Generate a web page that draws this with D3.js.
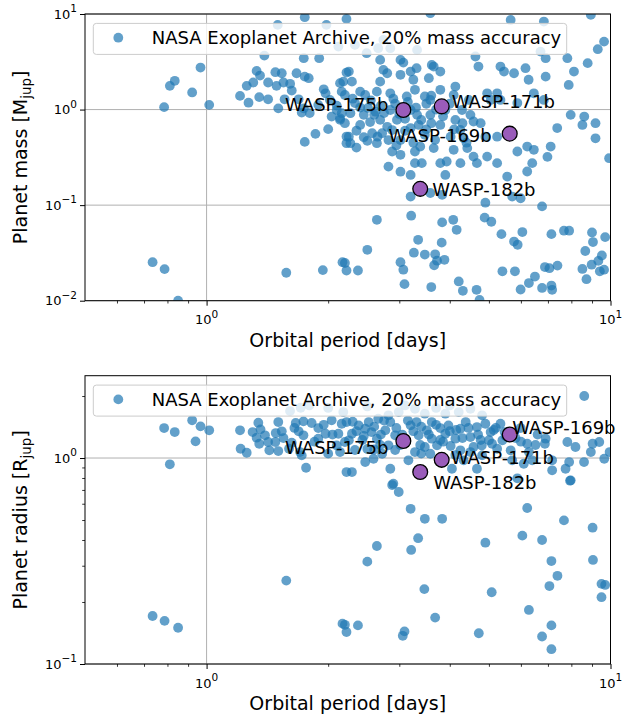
<!DOCTYPE html>
<html>
<head>
<meta charset="UTF-8">
<title>Planet mass and radius vs orbital period</title>
<script src="https://d3js.org/d3.v7.min.js"></script>
<style>
  body { margin: 0; background: #fff; }
  svg { display: block; font-family: "DejaVu Sans", sans-serif; }
</style>
</head>
<body>
<div id="chart"></div>
<script>
// NASA archive sample, upper panel: orbital period [days] and mass [Mjup]
const massPeriods = [
  1.50, 1.75, 1.39, 1.74, 1.90, 0.966, 0.834, 0.811, 0.921, 0.785,
  1.015, 1.33, 1.356, 1.48, 1.535, 1.67, 1.75, 1.79, 1.305, 1.257,
  1.42, 1.49, 1.55, 1.61, 1.625, 1.21, 1.27, 1.35, 1.42, 1.56,
  1.505, 1.69, 1.74, 1.72, 1.80, 1.95, 1.97, 2.14, 2.16, 2.20,
  2.04, 2.14, 2.16, 2.00, 1.86, 1.75, 2.22, 2.22, 2.22, 2.22,
  3.58, 5.66, 6.84, 8.94, 9.64, 9.30, 8.78, 8.12, 6.71, 7.82,
  6.91, 4.63, 4.71, 5.34, 5.45, 5.77, 6.16, 6.27, 6.91, 7.88,
  1.98, 2.12, 2.33, 2.74, 2.85, 3.32, 2.49, 2.66, 2.25, 2.18,
  2.29, 2.69, 3.02, 3.07, 2.74, 2.80, 3.20, 3.31, 3.61, 3.65,
  3.79, 3.55, 3.25, 2.69, 3.02, 2.40, 2.64, 2.85, 3.13, 3.28,
  3.47, 3.58, 3.79, 4.13, 4.09, 4.46, 4.95, 5.05, 5.24, 5.34,
  5.88, 6.46, 6.84, 7.97, 8.61, 8.52, 9.18, 7.38, 9.18, 9.92,
  6.98, 7.11, 6.40, 6.22, 5.55, 2.10, 2.14, 2.27, 2.45, 2.69,
  2.80, 2.57, 2.72, 2.96, 3.20, 3.32, 3.35, 3.58, 3.79, 4.58,
  4.77, 4.90, 5.24, 4.33, 4.02, 2.25, 2.27, 2.45, 2.64, 2.88,
  3.02, 3.28, 3.38, 3.65, 4.09, 4.42, 4.58, 4.95, 5.24, 4.67,
  4.25, 3.79, 3.93, 3.28, 3.41, 2.82, 3.02, 3.20, 3.90, 5.88,
  6.46, 6.22, 3.20, 3.58, 3.83, 4.90, 5.71, 5.99, 6.77, 3.21,
  2.64, 3.83, 4.08, 4.16, 4.88, 5.07, 5.37, 5.77, 5.89, 6.05,
  7.14, 7.67, 7.90, 9.00, 9.70, 9.05, 8.66, 3.34, 3.82, 2.50,
  3.26, 3.47, 3.68, 3.72, 3.66, 3.88, 2.20, 2.22, 2.37, 3.02,
  3.07, 3.09, 3.60, 4.21, 4.31, 4.66, 4.74, 5.40, 5.80, 5.99,
  6.28, 6.50, 6.88, 7.06, 7.39, 6.77, 7.14, 7.17, 8.52, 8.72,
  8.98, 9.33, 9.52, 9.41, 9.64, 0.735, 0.787, 0.850, 1.575, 1.94,
  2.17, 2.33, 2.51, 2.62, 2.85, 2.93, 2.40, 2.54, 2.88, 3.02,
  3.20, 3.47, 3.68, 4.13, 4.29, 4.50, 3.90, 2.82, 2.35, 2.02, 1.89, 2.47, 4.25,
  2.30, 2.40, 2.55, 2.60, 2.70, 2.75, 2.90, 3.00, 3.10, 3.15,
  3.30, 3.40, 3.50, 3.60, 3.70, 3.85, 4.00, 4.10, 4.30, 2.20,
  2.35, 2.50, 2.65, 3.10, 3.50, 2.95, 3.25, 4.40, 3.60, 2.10
];
const masses = [
  7.69, 9.26, 3.67, 3.45, 3.45, 2.75, 2.00, 1.77, 1.51, 1.06,
  1.12, 2.54, 2.27, 2.46, 2.40, 2.40, 2.21, 2.13, 1.92, 1.77,
  1.92, 1.77, 1.92, 1.86, 1.58, 1.39, 1.18, 1.35, 1.28, 1.28,
  1.03, 1.28, 1.03, 0.93, 0.92, 1.63, 1.48, 1.89, 1.54, 1.42,
  0.845, 0.78, 0.917, 0.624, 0.557, 0.459, 0.522, 0.445, 2.44, 8.89,
  10.2, 8.67, 8.33, 9.79, 5.14, 4.28, 3.06, 2.50, 4.04, 3.45,
  3.45, 3.59, 2.82, 2.82, 2.50, 2.40, 2.71, 2.05, 2.21, 1.81,
  7.69, 4.56, 4.75, 5.36, 4.39, 4.21, 3.89, 4.39, 2.50, 1.96,
  1.96, 3.31, 3.31, 3.10, 2.60, 2.40, 2.50, 2.71, 2.93, 2.82,
  2.50, 2.13, 2.05, 1.96, 2.31, 1.54, 1.54, 1.48, 1.37, 1.61,
  1.37, 1.26, 1.61, 1.74, 1.42, 1.26, 1.48, 1.26, 1.48, 1.26,
  1.17, 1.48, 1.26, 0.88, 0.845, 0.69, 0.72, 0.64, 0.50, 0.31,
  0.32, 0.41, 0.275, 0.225, 0.199, 0.99, 0.81, 0.917, 0.88, 0.78,
  0.66, 0.566, 0.566, 0.78, 0.99, 0.88, 0.69, 0.88, 0.69, 0.75,
  0.72, 0.52, 0.52, 0.50, 0.52, 0.52, 0.445, 0.514, 0.445, 0.364,
  0.336, 0.364, 0.41, 0.395, 0.379, 0.395, 0.322, 0.322, 0.275, 0.275,
  0.275, 0.275, 0.286, 0.275, 0.275, 0.253, 0.224, 0.207, 0.207, 0.364,
  0.379, 0.41, 0.123, 0.134, 0.128, 0.106, 0.123, 0.118, 0.097, 0.0775,
  0.0702, 0.066, 0.0702, 0.0552, 0.074, 0.067, 0.0497, 0.0416, 0.0385, 0.0523,
  0.0497, 0.054, 0.054, 0.0517, 0.0463, 0.0411, 0.0331, 0.0434, 0.0405, 0.0341,
  0.0318, 0.0304, 0.0306, 0.0262, 0.0235, 0.0268, 0.0248, 0.0207, 0.0207, 0.0253,
  0.0211, 0.0149, 0.0139, 0.0159, 0.0127, 0.0130, 0.0102, 0.0203, 0.0203, 0.0131,
  0.0153, 0.0179, 0.0225, 0.0219, 0.0233, 0.0136, 0.0144, 0.0130, 0.0215, 0.0168,
  0.0238, 0.0261, 0.0297, 0.0203, 0.0211, 0.0253, 0.0214, 0.0100, 0.0196, 0.0209,
  0.0253, 1.17, 1.04, 0.95, 0.99, 1.15, 0.69, 0.74, 0.61, 0.48,
  0.64, 0.544, 0.482, 0.78, 0.99, 0.88, 0.99, 0.48, 0.40, 1.26, 1.12, 1.42, 0.613,
  1.30, 1.05, 1.25, 0.88, 1.10, 0.92, 1.30, 0.90, 0.80, 1.20,
  1.05, 0.78, 1.15, 0.72, 1.00, 0.85, 1.15, 0.62, 0.72, 0.72,
  0.60, 0.47, 0.52, 0.60, 0.62, 0.42, 0.45, 0.45, 1.40, 1.10
];

// NASA archive sample, lower panel: orbital period [days] and radius [Rjup]
const radiusPeriods = [
  0.785, 0.834, 0.921, 0.966, 0.939, 1.015, 0.811, 0.735, 0.787, 0.850,
  1.575, 1.21, 1.214, 1.257, 1.30, 1.343, 1.36, 1.33, 1.35, 1.42,
  1.43, 1.395, 1.505, 1.535, 1.483, 1.505, 1.48, 1.609, 1.71, 1.796,
  1.662, 1.737, 1.82, 1.89, 1.69, 1.737, 1.625, 1.60, 1.704, 1.72,
  1.763, 1.89, 1.97, 2.04, 2.16, 2.18, 2.12, 2.14, 2.20, 2.22,
  2.22, 2.38, 2.29, 2.25, 2.47, 2.52, 2.66, 2.82, 2.99, 3.28,
  3.47, 3.90, 4.21, 4.50, 4.81, 2.56, 2.64, 2.77, 2.85, 2.93,
  2.82, 2.72, 2.59, 2.47, 2.29, 2.85, 2.90, 2.99, 3.20, 3.47,
  3.83, 3.20, 3.31, 3.35, 3.51, 3.61, 3.61, 3.47, 3.28, 3.16,
  3.58, 3.72, 3.90, 3.97, 4.13, 4.25, 4.38, 4.50, 4.58, 4.25,
  4.05, 4.33, 4.67, 4.90, 5.05, 5.09, 4.81, 4.67, 5.24, 5.34,
  5.40, 5.66, 5.71, 6.22, 6.28, 6.10, 6.40, 6.91, 6.88, 7.17,
  7.17, 7.82, 8.19, 7.90, 8.60, 8.94, 9.03, 9.38, 9.65, 9.95,
  7.97, 7.74, 6.22, 7.67, 8.61, 2.88, 4.90, 6.05, 6.77, 9.03,
  5.88, 7.94, 2.64, 2.50, 3.34, 3.21, 7.14, 7.39, 7.06, 9.05,
  3.46, 5.08, 6.28, 9.50, 9.70, 9.50, 3.68, 2.20, 2.22, 2.37,
  3.09, 3.06, 4.72, 7.14, 6.77, 7.14, 2.17,
  3.10, 3.38, 3.79, 4.02, 4.13, 4.77, 5.14, 5.47, 5.82, 5.99,
  6.52, 3.79, 2.69, 2.43, 2.33, 2.93, 4.50, 3.02, 4.15, 2.50,
  1.55, 1.65, 1.85, 1.95, 2.05, 2.10, 2.30, 2.35, 2.45, 2.60,
  2.70, 2.75, 2.95, 3.05, 3.15, 3.25, 3.40, 3.55, 3.70, 3.85,
  4.00, 4.30, 4.45, 4.70, 5.00, 5.20, 5.50, 6.00, 6.60, 2.00,
  2.60, 3.40, 4.80, 2.00, 2.50, 3.10, 3.70, 4.00
];
const radii = [
  1.398, 1.337, 1.524, 1.425, 1.205, 1.363, 0.932, 0.171, 0.162, 0.150,
  0.254, 1.363, 1.109, 1.061, 1.337, 1.484, 1.378, 1.255, 1.173, 1.196,
  1.090, 1.289, 1.495, 1.348, 1.322, 1.081, 1.196, 1.69, 1.754, 1.80,
  1.479, 1.506, 1.479, 1.398, 1.348, 1.289, 1.186, 1.109, 1.069, 1.030,
  0.897, 1.241, 1.312, 1.524, 1.467, 1.672, 1.312, 1.069, 1.196, 0.855,
  1.495, 1.441, 1.312, 1.219, 1.387, 1.495, 1.551, 1.612, 1.672, 1.735,
  1.641, 1.641, 1.672, 1.735, 1.612, 1.337, 1.241, 1.363, 1.495, 1.289,
  1.153, 1.049, 0.992, 0.956, 0.855, 0.887, 0.750, 0.684, 0.567, 0.507,
  0.507, 1.441, 1.495, 1.289, 1.363, 1.495, 1.241, 1.131, 1.069, 0.975,
  1.049, 1.153, 1.312, 1.441, 1.241, 1.387, 1.495, 1.264, 1.131, 1.090,
  0.887, 0.975, 1.414, 1.467, 1.337, 1.173, 1.030, 0.887, 1.109, 1.467,
  1.219, 1.090, 0.975, 1.173, 1.069, 0.938, 0.975, 1.241, 1.173, 0.975,
  0.872, 1.196, 1.131, 0.956, 0.956, 1.069, 1.173, 1.196, 0.992, 1.069,
  0.779, 0.887, 0.572, 0.498, 2.00, 0.739, 0.388, 0.420, 0.400, 0.459,
  0.797, 0.776, 0.374, 0.314, 0.408, 0.358, 0.316, 0.268, 0.239, 0.320,
  0.231, 0.223, 0.183, 0.245, 0.242, 0.211, 0.168, 0.155, 0.143, 0.154,
  0.144, 0.137, 0.141, 0.154, 0.136, 0.118, 0.157,
  1.223, 1.157, 1.223, 1.144, 1.034, 1.223, 1.368, 1.337, 1.25, 1.398,
  1.157, 1.398, 1.157, 1.223, 1.094, 1.094, 1.069, 1.157, 1.368, 1.106,
  1.25, 1.40, 1.20, 1.45, 1.30, 1.15, 1.50, 1.35, 1.28, 1.42,
  1.30, 1.52, 1.40, 1.30, 1.52, 1.35, 1.42, 1.30, 1.45, 1.20,
  1.35, 1.25, 1.40, 1.30, 1.22, 1.40, 1.28, 1.20, 1.30, 1.05,
  1.10, 1.05, 1.15, 1.75, 1.78, 1.80, 1.75, 1.80
];

// the four highlighted planets
const waspNames = ["WASP-169b", "WASP-171b", "WASP-175b", "WASP-182b"];
const waspPeriods = [5.63, 3.82, 3.07, 3.38];
const waspMasses = [0.56, 1.08, 0.99, 0.148];
const waspRadii = [1.30, 0.98, 1.21, 0.855];

const periodTicks = [1, 10];
const periodMinor = [0.6, 0.7, 0.8, 0.9, 2, 3, 4, 5, 6, 7, 8, 9];
const massTicks = [0.01, 0.1, 1, 10];
const radiusTicks = [0.1, 1];
const radiusMinor = [0.2, 0.3, 0.4, 0.5, 0.6, 0.7, 0.8, 0.9, 2];
const legendLabel = "NASA Exoplanet Archive, 20% mass accuracy";

const width = 622, height = 716;
const left = 85, right = 610.5;
const blue = "#1f77b4", purple = "#9a5cba";
const dotR = 4.9;

const svg = d3.select("#chart").append("svg")
  .attr("width", width)
  .attr("height", height);

// "10" with a raised exponent, like matplotlib's log labels
function powerLabel(sel, v) {
  const e = Math.round(Math.log10(v));
  sel.append("tspan").text("10");
  sel.append("tspan").attr("font-size", 10.5).attr("dy", -6.5)
    .text(e < 0 ? "\u2212" + (-e) : String(e));
}

function drawPanel(cfg, id) {
  const x = d3.scaleLog().domain([0.5, 10]).range([left, right]);
  const y = d3.scaleLog().domain(cfg.yDomain).range([cfg.bottom, cfg.top]);
  const g = svg.append("g");

  g.append("clipPath").attr("id", "clip" + id)
    .append("rect")
    .attr("x", left).attr("y", cfg.top)
    .attr("width", right - left).attr("height", cfg.bottom - cfg.top);

  // grid on major ticks
  g.selectAll(".vgrid").data(periodTicks).enter().append("line")
    .attr("x1", d => x(d)).attr("x2", d => x(d))
    .attr("y1", cfg.top).attr("y2", cfg.bottom)
    .attr("stroke", "#b0b0b0").attr("stroke-width", 1);
  g.selectAll(".hgrid").data(cfg.yTicks).enter().append("line")
    .attr("x1", left).attr("x2", right)
    .attr("y1", d => y(d)).attr("y2", d => y(d))
    .attr("stroke", "#b0b0b0").attr("stroke-width", 1);

  // axes (ticks only, labels added by hand)
  const xMajor = g.append("g").attr("transform", `translate(0,${cfg.bottom})`)
    .call(d3.axisBottom(x).tickValues(periodTicks).tickSize(5).tickFormat(""));
  const xMin = g.append("g").attr("transform", `translate(0,${cfg.bottom})`)
    .call(d3.axisBottom(x).tickValues(periodMinor).tickSize(2.8).tickFormat(""));
  const yMajor = g.append("g").attr("transform", `translate(${left},0)`)
    .call(d3.axisLeft(y).tickValues(cfg.yTicks).tickSize(5).tickFormat(""));
  const yMin = g.append("g").attr("transform", `translate(${left},0)`)
    .call(d3.axisLeft(y).tickValues(cfg.yMinor).tickSize(2.8).tickFormat(""));
  [xMajor, xMin, yMajor, yMin].forEach(a => {
    a.select(".domain").remove();
    a.selectAll("line").attr("stroke", "#000").attr("stroke-width", 1);
  });
  xMin.selectAll("line").attr("stroke-width", 0.8);
  yMin.selectAll("line").attr("stroke-width", 0.8);

  periodTicks.forEach(v => {
    g.append("text").attr("x", x(v)).attr("y", cfg.bottom + 23.5)
      .attr("text-anchor", "middle").attr("font-size", 13)
      .call(powerLabel, v);
  });
  cfg.yTicks.forEach(v => {
    g.append("text").attr("x", left - 8).attr("y", y(v) + 4.7)
      .attr("text-anchor", "end").attr("font-size", 13)
      .call(powerLabel, v);
  });

  // axis titles
  g.append("text")
    .attr("x", (left + right) / 2).attr("y", cfg.bottom + 46)
    .attr("text-anchor", "middle").attr("font-size", 19)
    .text("Orbital period [days]");
  const yt = g.append("text")
    .attr("transform", `translate(27,${(cfg.top + cfg.bottom) / 2}) rotate(-90)`)
    .attr("text-anchor", "middle").attr("font-size", 19);
  yt.append("tspan").text(cfg.yTitle + " [" + cfg.symbol);
  yt.append("tspan").attr("font-size", 13.5).attr("dy", 4).text("jup");
  yt.append("tspan").attr("dy", -4).text("]");

  // archive points
  g.append("g").attr("clip-path", `url(#clip${id})`)
    .selectAll("circle").data(cfg.periods).enter().append("circle")
    .attr("cx", d => x(d))
    .attr("cy", (d, i) => y(cfg.values[i]))
    .attr("r", dotR)
    .attr("fill", blue)
    .attr("opacity", 0.7);

  // highlighted planets
  g.append("g").attr("clip-path", `url(#clip${id})`)
    .selectAll("circle").data(waspNames).enter().append("circle")
    .attr("cx", (d, i) => x(waspPeriods[i]))
    .attr("cy", (d, i) => y(cfg.wasp[i]))
    .attr("r", 7.4)
    .attr("fill", purple)
    .attr("stroke", "#000")
    .attr("stroke-width", 1.3);

  g.selectAll(".wlabel").data(waspNames).enter().append("text")
    .attr("x", (d, i) => x(waspPeriods[i]) + cfg.offsets[i][0])
    .attr("y", (d, i) => y(cfg.wasp[i]) + cfg.offsets[i][1])
    .attr("text-anchor", (d, i) => cfg.offsets[i][2])
    .attr("font-size", 18)
    .text(d => d);

  // legend
  const lg = g.append("g").attr("transform", `translate(93.3,${cfg.top + 9.4})`);
  lg.append("rect")
    .attr("width", 473.4).attr("height", 31).attr("rx", 3)
    .attr("fill", "#fff").attr("fill-opacity", 0.8)
    .attr("stroke", "#cccccc").attr("stroke-width", 1);
  lg.append("circle").attr("cx", 25).attr("cy", 14.3).attr("r", dotR)
    .attr("fill", blue).attr("opacity", 0.7);
  lg.append("text").attr("x", 58.4).attr("y", 21)
    .attr("font-size", 18).text(legendLabel);

  // frame
  g.append("rect")
    .attr("x", left).attr("y", cfg.top)
    .attr("width", right - left).attr("height", cfg.bottom - cfg.top)
    .attr("fill", "none").attr("stroke", "#000").attr("stroke-width", 1);
}

drawPanel({
  top: 14, bottom: 300.7, yDomain: [0.01, 10],
  yTicks: massTicks, yMinor: [],
  yTitle: "Planet mass", symbol: "M",
  periods: massPeriods, values: masses, wasp: waspMasses,
  offsets: [[-18, 8, "end"], [10, 1.5, "start"], [-15, 1.5, "end"], [12, 7, "start"]]
}, 1);

drawPanel({
  top: 375.7, bottom: 664, yDomain: [0.1, 2.51],
  yTicks: radiusTicks, yMinor: radiusMinor,
  yTitle: "Planet radius", symbol: "R",
  periods: radiusPeriods, values: radii, wasp: waspRadii,
  offsets: [[2.5, -1, "start"], [9, 4, "start"], [-15, 13, "end"], [13, 16.5, "start"]]
}, 2);
</script>
</body>
</html>
